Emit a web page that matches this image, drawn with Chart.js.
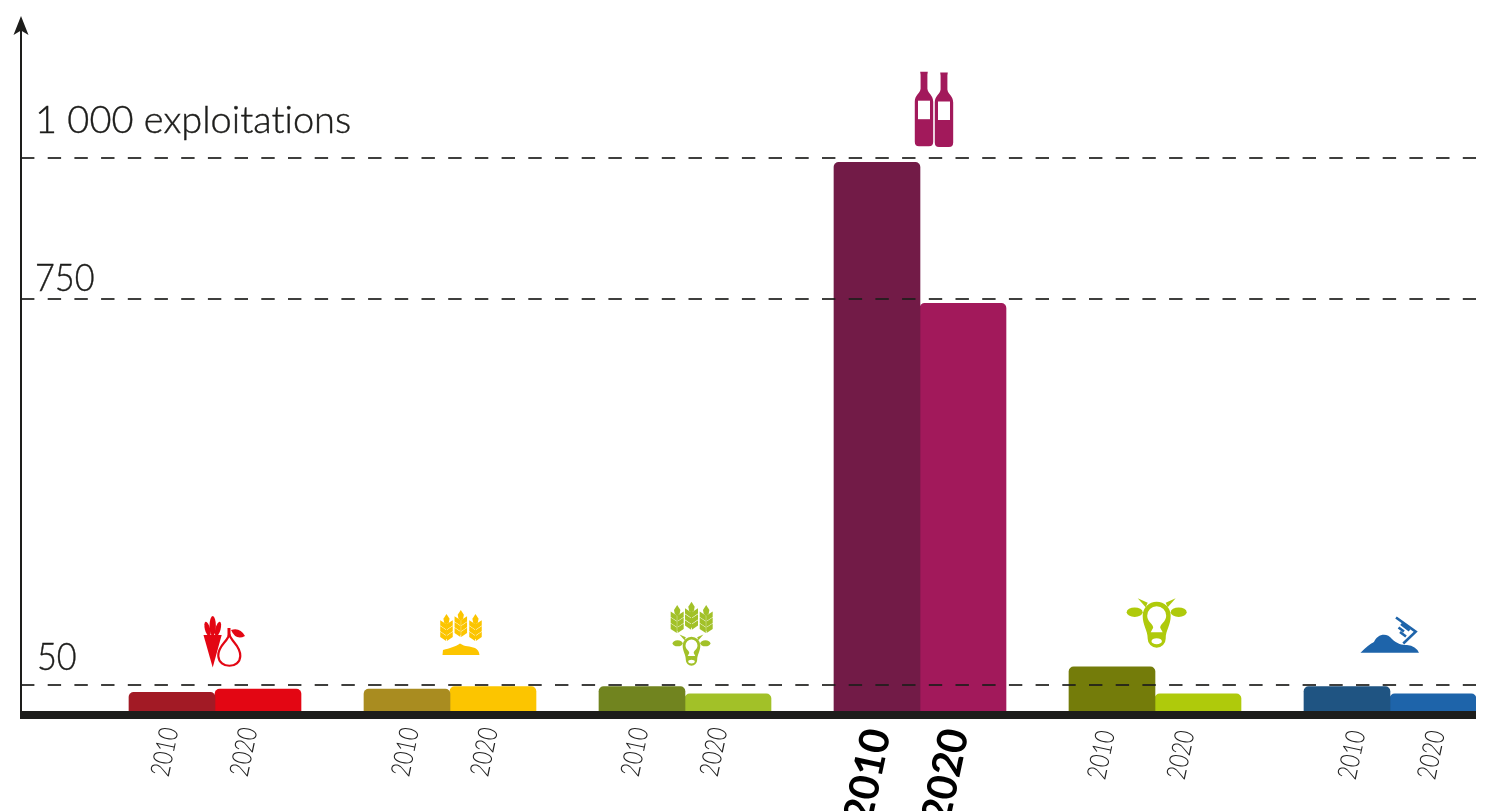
<!DOCTYPE html>
<html lang="fr">
<head>
<meta charset="utf-8">
<title>Exploitations 2010 / 2020</title>
<script src="https://cdn.jsdelivr.net/npm/chart.js@4/dist/chart.umd.min.js"></script>
<style>
  html, body { margin: 0; background: #fff; overflow: hidden; }
  #wrap { width: 1485px; height: 811px; }
</style>
</head>
<body>
<div id="wrap"><canvas id="chart"></canvas></div>
<script>
const categories = ["Fruits et légumes", "Céréales", "Polyculture-élevage", "Viticulture", "Élevage", "Autres"];
const years = ["2010", "2020"];
const values2010 = [36, 42, 47, 992, 83, 47];
const values2020 = [42, 47, 33, 743, 33, 33];
const colors2010 = ["#a21a25", "#a98c20", "#71841f", "#721b47", "#747c0a", "#1f5482"];
const colors2020 = ["#e30613", "#fcc500", "#a2c128", "#a2195b", "#afca0b", "#1e64aa"];
const yTicks = [50, 750, 1000];
const yTickLabels = ["50", "750", "1 000 exploitations"];

// the printed axis is not linear, so the ticks are pinned to their height share
const yStops = [0, 50, 750, 1000, 1250];
const yShares = [0, 0.0375, 0.593, 0.797, 1];

const INK = "#1d1d1b";
const LIGHT = '300 38px Lato, "Open Sans", sans-serif';

class StopScale extends Chart.LinearScale {
  static id = "stops";
  static defaults = Chart.LinearScale.defaults;
  getPixelForValue(v) {
    let i = 1;
    while (i < yStops.length - 1 && v > yStops[i]) i++;
    const f = (v - yStops[i - 1]) / (yStops[i] - yStops[i - 1]);
    const share = yShares[i - 1] + f * (yShares[i] - yShares[i - 1]);
    return this.bottom - share * (this.bottom - this.top);
  }
}
Chart.register(StopScale);

function blob(ctx, x, y, rx, ry, rot = 0) {
  ctx.beginPath();
  ctx.ellipse(x, y, rx, ry, rot, 0, Math.PI * 2);
  ctx.fill();
}

function poly(ctx, pts) {
  ctx.beginPath();
  pts.forEach((p, i) => (i ? ctx.lineTo(p[0], p[1]) : ctx.moveTo(p[0], p[1])));
  ctx.closePath();
  ctx.fill();
}

function wheat(ctx, x, y, h, color) {
  ctx.fillStyle = color;
  const k = h / 27;
  poly(ctx, [[x, y], [x + 3.2 * k, y + 5 * k], [x + 2.4 * k, y + 9 * k], [x, y + 11 * k], [x - 2.4 * k, y + 9 * k], [x - 3.2 * k, y + 5 * k]]);
  for (let r = 0; r < 3; r++) {
    const t = y + (6.5 + r * 6) * k;
    [-1, 1].forEach(s => poly(ctx, [
      [x + s * 0.4 * k, t + 4 * k], [x + s * 6.5 * k, t], [x + s * 6.5 * k, t + 5.4 * k], [x + s * 0.4 * k, t + 9.6 * k]
    ]));
  }
  ctx.fillRect(x - 0.5 * k, y + 10 * k, 1 * k, 16 * k);
}

function cow(ctx, x, y, s, color) {
  ctx.save();
  ctx.translate(x, y);
  ctx.scale(s, s);
  ctx.fillStyle = color;
  blob(ctx, -22, 10.5, 8, 4.8);
  blob(ctx, 22, 10.5, 8, 4.8);
  poly(ctx, [[-19, -3.5], [-9, 1], [-11, 5.5]]);
  poly(ctx, [[19, -3.5], [9, 1], [11, 5.5]]);
  const head = new Path2D();
  head.arc(0, 14, 14, Math.PI, 0);
  head.bezierCurveTo(14, 24, 9, 28, 9, 37);
  head.arc(0, 37, 9, 0, Math.PI);
  head.bezierCurveTo(-9, 28, -14, 24, -14, 14);
  head.closePath();
  head.arc(0, 14, 9.5, Math.PI, 0);
  head.bezierCurveTo(9.5, 20, 3.5, 22, 3.5, 26);
  head.lineTo(6, 30.5);
  head.lineTo(-6, 30.5);
  head.lineTo(-3.5, 26);
  head.bezierCurveTo(-3.5, 22, -9.5, 20, -9.5, 14);
  head.closePath();
  head.ellipse(0, 39.5, 5.2, 3, 0, 0, Math.PI * 2);
  ctx.fill(head, "evenodd");
  ctx.restore();
}

function bottle(ctx, x, y, color) {
  ctx.fillStyle = color;
  ctx.beginPath();
  ctx.moveTo(x - 3.8, y);
  ctx.lineTo(x + 3.8, y);
  ctx.lineTo(x + 3.4, y + 3);
  ctx.lineTo(x + 3.4, y + 17);
  ctx.bezierCurveTo(x + 4, y + 22, x + 9.2, y + 23, x + 9.2, y + 30);
  ctx.lineTo(x + 9.2, y + 70);
  ctx.quadraticCurveTo(x + 9.2, y + 74.5, x + 5, y + 74.5);
  ctx.lineTo(x - 5, y + 74.5);
  ctx.quadraticCurveTo(x - 9.2, y + 74.5, x - 9.2, y + 70);
  ctx.lineTo(x - 9.2, y + 30);
  ctx.bezierCurveTo(x - 9.2, y + 23, x - 4, y + 22, x - 3.4, y + 17);
  ctx.lineTo(x - 3.4, y + 3);
  ctx.closePath();
  ctx.fill();
  ctx.fillStyle = "#fff";
  ctx.fillRect(x - 6, y + 29, 12, 18.5);
}

function drawFruit(ctx, cx) {
  const c = colors2020[0];
  ctx.fillStyle = c;
  poly(ctx, [[cx - 11.5, 635], [cx + 6.7, 635], [cx - 2.3, 667.5]]);
  blob(ctx, cx - 2.3, 626, 3.2, 10);
  blob(ctx, cx - 7.5, 629, 2.6, 7.5, -0.25);
  blob(ctx, cx + 3, 629, 2.6, 7.5, 0.25);
  ctx.strokeStyle = c;
  ctx.lineWidth = 2.2;
  ctx.beginPath();
  ctx.moveTo(cx + 14.3, 634);
  ctx.bezierCurveTo(cx + 13, 642, cx + 3, 645, cx + 3.3, 656);
  ctx.bezierCurveTo(cx + 4, 669, cx + 25, 669, cx + 25.3, 656);
  ctx.bezierCurveTo(cx + 25.5, 645, cx + 16, 642, cx + 14.3, 634);
  ctx.stroke();
  ctx.fillRect(cx + 12.5, 628, 3, 8);
  ctx.beginPath();
  ctx.moveTo(cx + 16, 630);
  ctx.quadraticCurveTo(cx + 25, 627, cx + 30, 636);
  ctx.quadraticCurveTo(cx + 21, 641, cx + 16, 630);
  ctx.fill();
}

function drawCereal(ctx, cx) {
  const c = colors2020[1];
  wheat(ctx, cx - 3.5, 614, 26, c);
  wheat(ctx, cx + 10.8, 610, 26, c);
  wheat(ctx, cx + 25.5, 614, 26, c);
  ctx.fillStyle = c;
  ctx.beginPath();
  ctx.moveTo(cx - 7.5, 655);
  ctx.lineTo(cx - 7, 650);
  ctx.bezierCurveTo(cx, 648, cx + 5, 647, cx + 10, 643.5);
  ctx.bezierCurveTo(cx + 15, 647, cx + 20, 646, cx + 25, 648);
  ctx.quadraticCurveTo(cx + 29, 650, cx + 29.5, 655);
  ctx.closePath();
  ctx.fill();
}

function drawMixed(ctx, cx) {
  const c = colors2020[2];
  wheat(ctx, cx - 7.8, 605, 27, c);
  wheat(ctx, cx + 6.5, 601.7, 27, c);
  wheat(ctx, cx + 21.2, 605, 27, c);
  cow(ctx, cx + 6.5, 636.7, 0.63, c);
}

function drawWine(ctx, cx) {
  bottle(ctx, cx + 4, 71.7, colors2020[3]);
  bottle(ctx, cx + 24, 72.5, colors2020[3]);
}

function drawPile(ctx, cx) {
  const c = colors2020[5];
  ctx.fillStyle = c;
  ctx.beginPath();
  ctx.moveTo(cx - 29.5, 652.8);
  ctx.quadraticCurveTo(cx - 22, 645, cx - 16, 642);
  ctx.bezierCurveTo(cx - 13, 634, cx - 3, 632, cx + 2, 639);
  ctx.bezierCurveTo(cx + 7, 644, cx + 12, 645, cx + 17, 645);
  ctx.quadraticCurveTo(cx + 26, 646, cx + 29, 652.8);
  ctx.closePath();
  ctx.fill();
  ctx.strokeStyle = c;
  ctx.lineWidth = 2.6;
  ctx.beginPath();
  ctx.moveTo(cx + 6, 617.5);
  ctx.lineTo(cx + 25.7, 631.7);
  ctx.lineTo(cx + 13.3, 643.5);
  ctx.moveTo(cx + 8.5, 627.5);
  ctx.lineTo(cx + 14, 631.5);
  ctx.moveTo(cx + 11, 624);
  ctx.lineTo(cx + 19.5, 630.5);
  ctx.moveTo(cx + 10, 632);
  ctx.lineTo(cx + 16, 636.5);
  ctx.stroke();
}

const iconDrawers = [
  drawFruit,
  drawCereal,
  drawMixed,
  drawWine,
  (ctx, cx) => cow(ctx, cx + 1.7, 601.7, 1, colors2020[4]),
  drawPile,
];

const yearLabelX = [165, 244, 405.5, 484.5, 635, 714, 868, 946, 1101.5, 1181, 1352, 1431.5];
const yearLabelY = [752, 752, 752, 752, 752, 752, 776, 776, 755, 755, 755, 755];
const yLabelLift = [27, 20.5, 37];
const yLabelX = [37, 35, 35];
const yLabelSqueeze = [0.9, 0.9, 1];

const extrasPlugin = {
  id: "extras",
  afterDraw(c) {
    const ctx = c.ctx;
    const { left, right, top, bottom } = c.chartArea;
    const x = c.scales.x;
    const y = c.scales.y;
    ctx.save();
    ctx.textRendering = "optimizeSpeed";

    // heavy base line, y axis and its arrow head
    ctx.fillStyle = INK;
    ctx.fillRect(left - 1, bottom, right - left + 1, 8);
    ctx.fillRect(left - 1, top + 10, 2, bottom - top - 10);
    poly(ctx, [[left, top - 1], [left + 7.5, top + 18], [left, top + 13.5], [left - 7.5, top + 18]]);

    ctx.textBaseline = "middle";
    ctx.textAlign = "left";
    ctx.font = LIGHT;
    ctx.strokeStyle = INK;
    ctx.lineWidth = 0.4;
    yTickLabels.forEach((t, i) => {
      ctx.save();
      ctx.translate(yLabelX[i], y.getPixelForValue(yTicks[i]) - yLabelLift[i]);
      ctx.scale(yLabelSqueeze[i], 1);
      ctx.fillText(t, 0, 0);
      ctx.strokeText(t, 0, 0);
      ctx.restore();
    });

    ctx.textAlign = "center";
    categories.forEach((_, i) => {
      years.forEach((yr, j) => {
        const k = i * 2 + j;
        const big = i === 3;
        ctx.save();
        ctx.translate(yearLabelX[k], yearLabelY[k]);
        ctx.rotate(-78 * Math.PI / 180);
        ctx.scale(big ? 1 : 0.78, 1);
        ctx.fillStyle = big ? "#000" : "#222";
        ctx.font = big ? "700 41px Lato, sans-serif" : "300 27px Lato, sans-serif";
        ctx.fillText(yr, 0, 0);
        ctx.restore();
      });
      iconDrawers[i](ctx, x.getPixelForValue(i));
    });
    ctx.restore();
  },
};

new Chart(document.getElementById("chart"), {
  type: "bar",
  data: {
    datasets: [
      {
        label: years[0],
        data: values2010.map((v, i) => ({ x: i, y: v })),
        backgroundColor: colors2010,
      },
      {
        label: years[1],
        data: values2020.map((v, i) => ({ x: i, y: v })),
        backgroundColor: colors2020,
      },
    ],
  },
  options: {
    responsive: true,
    maintainAspectRatio: false,
    animation: false,
    barThickness: 86,
    borderRadius: { topLeft: 5, topRight: 5, bottomLeft: 0, bottomRight: 0 },
    layout: { padding: { left: 21, right: 9, top: 17, bottom: 100 } },
    plugins: { legend: { display: false }, tooltip: { enabled: false } },
    scales: {
      x: { type: "linear", display: false, offset: false, min: -0.8255, max: 5.366 },
      y: {
        type: "stops",
        min: 0,
        max: 1250,
        afterBuildTicks: s => { s.ticks = yTicks.map(value => ({ value })); },
        ticks: { display: false },
        grid: { color: "rgba(29,29,27,0.85)", lineWidth: 2, drawTicks: false, z: 1 },
        border: { display: false, dash: [13.4, 13.3] },
      },
    },
  },
  plugins: [extrasPlugin],
});
</script>
</body>
</html>
